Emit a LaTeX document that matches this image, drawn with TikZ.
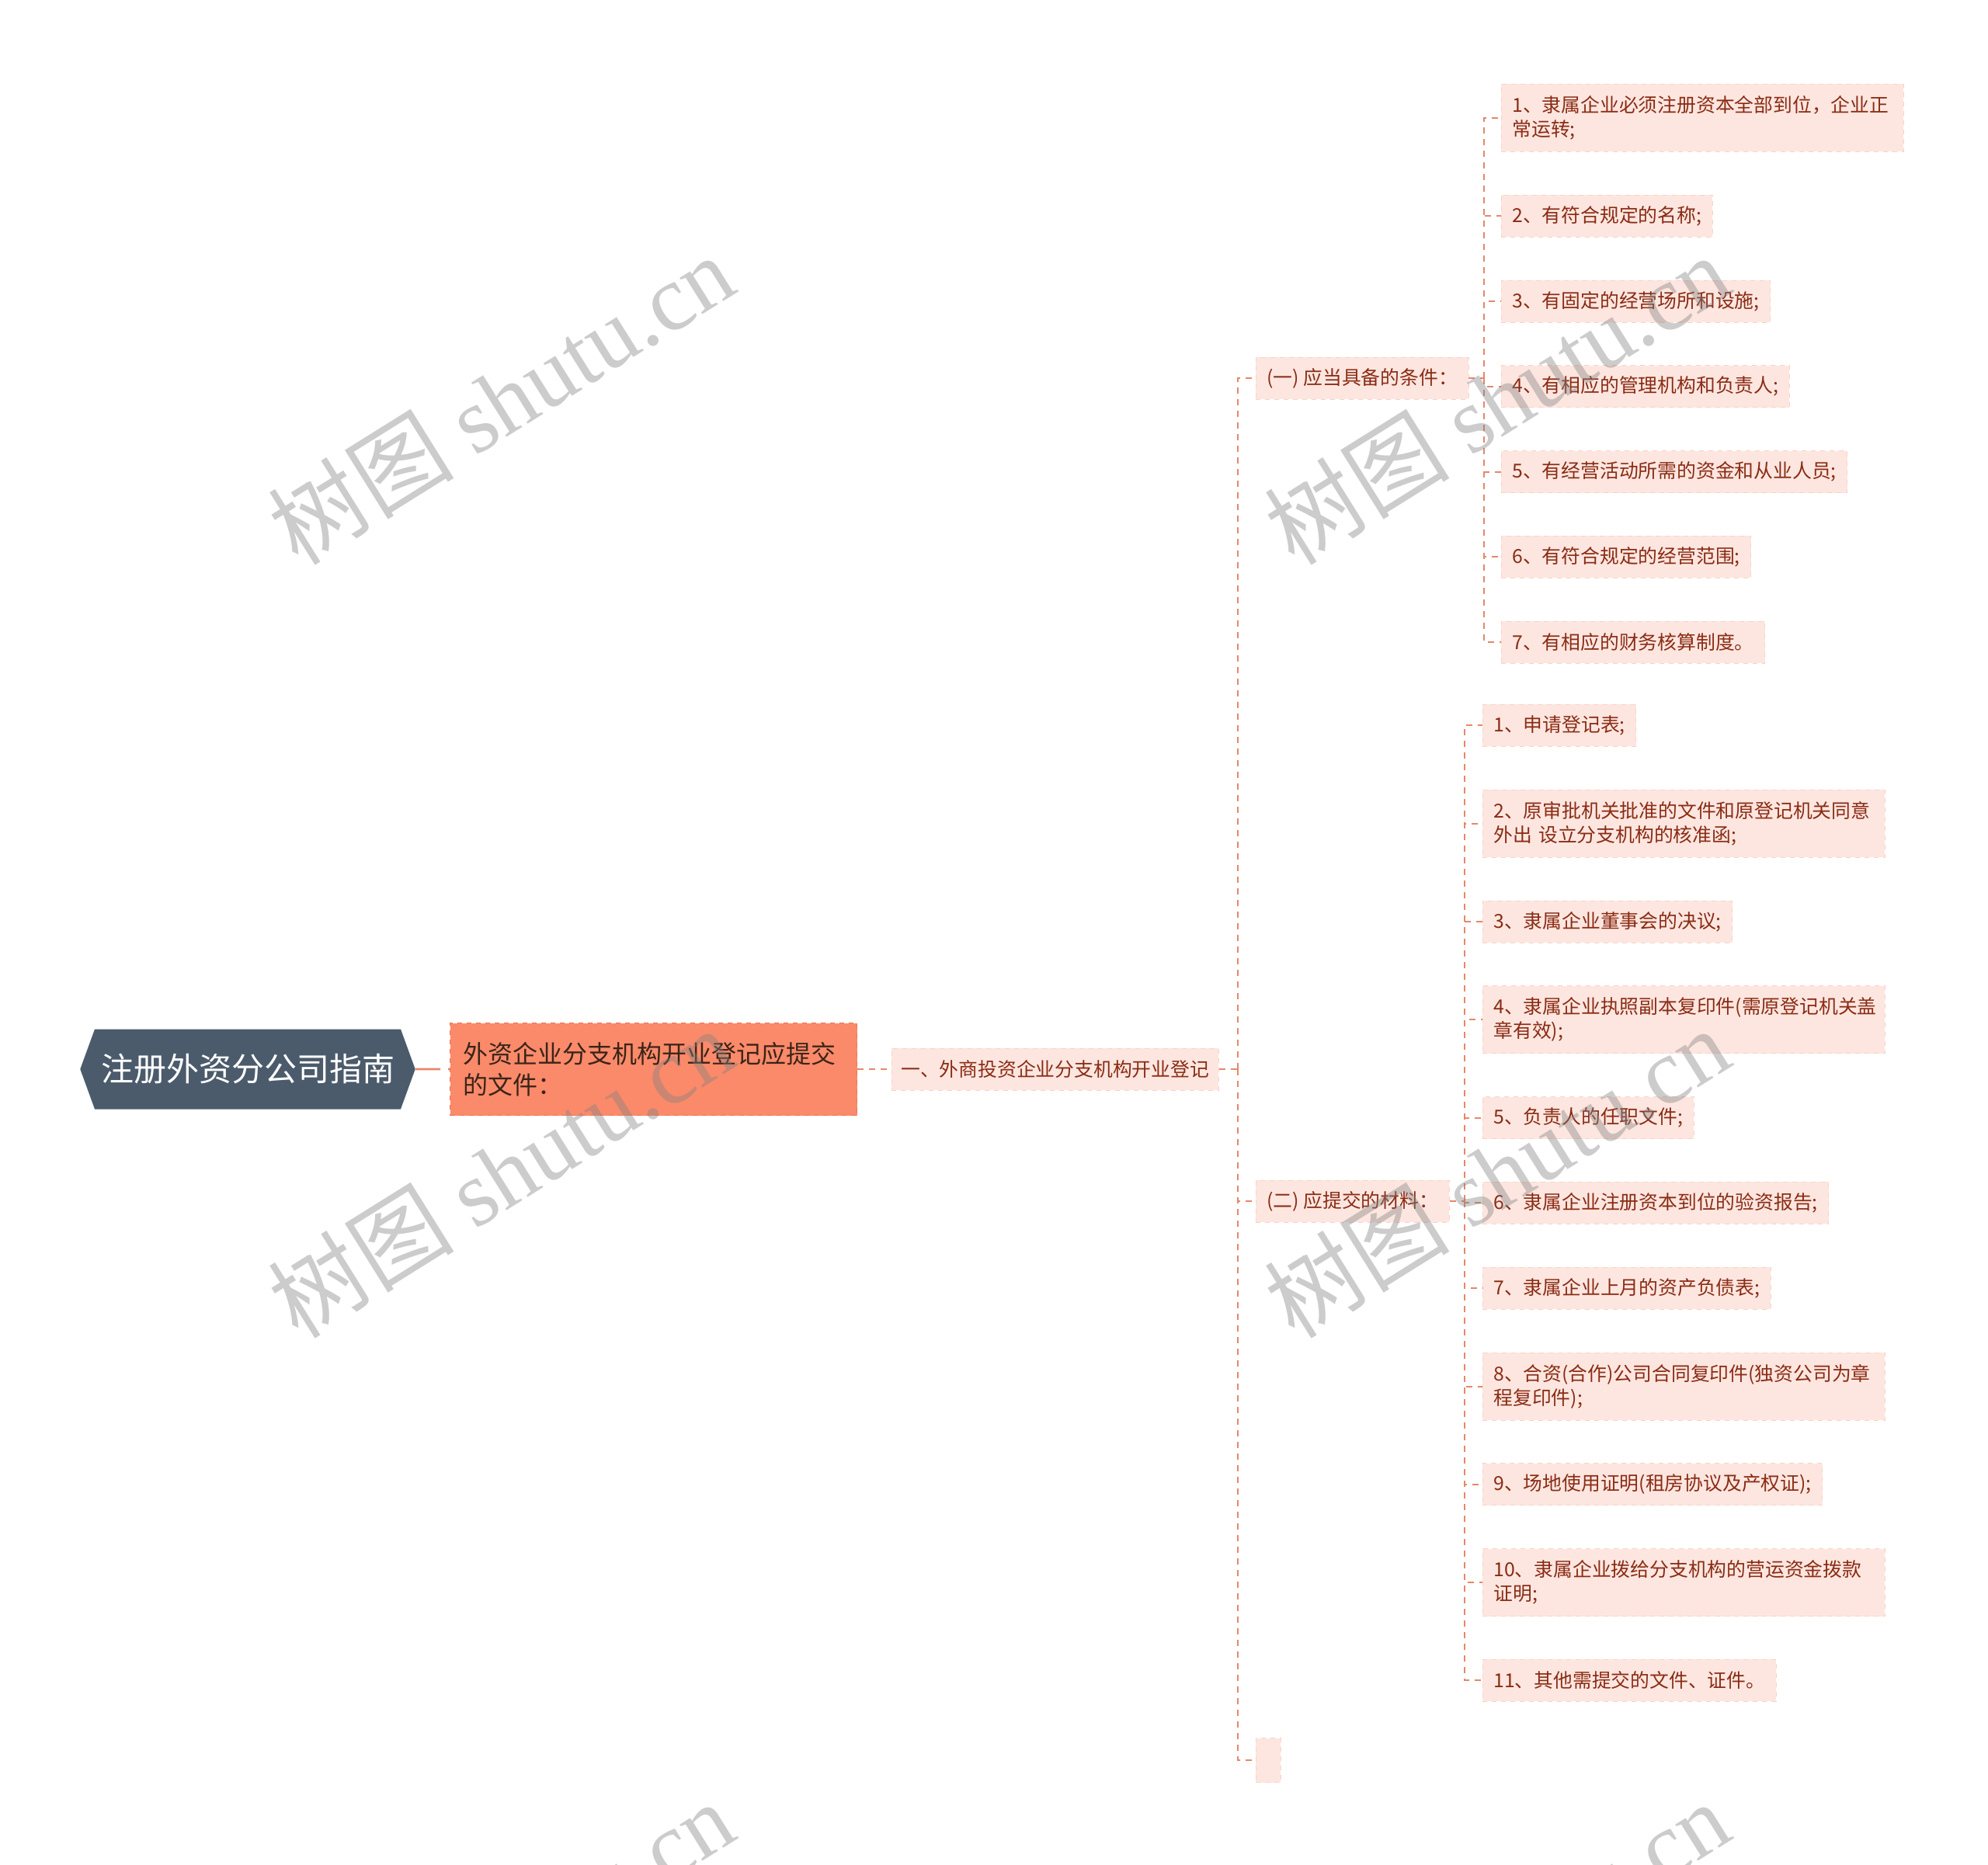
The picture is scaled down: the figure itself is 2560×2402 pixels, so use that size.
\documentclass[tikz,border=0pt]{standalone}
\usepackage{fontspec}
\setmainfont{Noto Sans CJK SC}
\newfontfamily\wmfont{Liberation Serif}
\usepackage{tikz}
\usetikzlibrary{positioning,shapes.symbols}
\definecolor{rootc}{HTML}{4B5B6B}
\definecolor{subc}{HTML}{FA8A6A}
\definecolor{subline}{HTML}{E8785A}
\definecolor{subtxt}{HTML}{3A2419}
\definecolor{itemc}{HTML}{FDE6E0}
\definecolor{itemline}{HTML}{F8D3C9}
\definecolor{itemtxt}{HTML}{8A2C14}
\definecolor{linkc}{HTML}{E5876B}
\definecolor{wmc}{HTML}{808080}
\newcommand{\itemfont}{\fontsize{12.4}{15.5}\selectfont}

\begin{document}
\begin{tikzpicture}[x=0.5pt,y=-0.5pt,
  rootbox/.style={signal,signal to=west and east,signal pointer angle=140,fill=rootc,text=white,
    font=\fontsize{21}{25}\selectfont,minimum width=213pt,minimum height=51.5pt,inner xsep=4pt},
  subbox/.style={fill=subc,draw=subline,dashed,text=subtxt,font=\fontsize{16}{20}\selectfont,
    text width=245pt,align=left,inner xsep=8.5pt,minimum height=59.5pt},
  item/.style={fill=itemc,draw=itemline,dashed,text=itemtxt,font=\itemfont,inner xsep=7pt,
    minimum height=27pt,align=left},
  wide/.style={item,text width=245pt,minimum height=43.5pt},
  link/.style={draw=linkc,line width=1pt,dash pattern=on 4pt off 3.5pt},
  wmark/.style={text=wmc,opacity=0.4,rotate=32,font=\fontsize{60}{60}\selectfont}]
    \useasboundingbox (0,0) rectangle (2560,2402);

    \node[rootbox] (root) at (319,1377) {注册外资分公司指南};
    \node[subbox,right=22pt of root] (sub) {外资企业分支机构开业登记应提交\\的文件：};
    \node[item,right=22pt of sub,inner xsep=6pt] (sec) {一、外商投资企业分支机构开业登记};

    \node[item,anchor=west] (cA) at (1617,487) {(一) 应当具备的条件：};
    \node[item,anchor=west] (cB) at (1617,1547) {(二) 应提交的材料：};
    \node[item,anchor=west,minimum width=16pt,minimum height=28.5pt] (blank) at (1617,2267) {};

    % (一)
    \node[wide,anchor=north west] (a1) at (1933,108) {1、隶属企业必须注册资本全部到位，企业正\\常运转;};
    \node[item,below=27.5pt of a1.south west,anchor=north west] (a2) {2、有符合规定的名称;};
    \node[item,below=27.5pt of a2.south west,anchor=north west] (a3) {3、有固定的经营场所和设施;};
    \node[item,below=27.5pt of a3.south west,anchor=north west] (a4) {4、有相应的管理机构和负责人;};
    \node[item,below=27.5pt of a4.south west,anchor=north west] (a5) {5、有经营活动所需的资金和从业人员;};
    \node[item,below=27.5pt of a5.south west,anchor=north west] (a6) {6、有符合规定的经营范围;};
    \node[item,below=27.5pt of a6.south west,anchor=north west] (a7) {7、有相应的财务核算制度。};

    % (二)
    \node[item,anchor=north west] (b1) at (1909,907) {1、申请登记表;};
    \node[wide,below=27.5pt of b1.south west,anchor=north west] (b2) {2、原审批机关批准的文件和原登记机关同意\\外出 设立分支机构的核准函;};
    \node[item,below=27.5pt of b2.south west,anchor=north west] (b3) {3、隶属企业董事会的决议;};
    \node[wide,below=27.5pt of b3.south west,anchor=north west] (b4) {4、隶属企业执照副本复印件(需原登记机关盖\\章有效);};
    \node[item,below=27.5pt of b4.south west,anchor=north west] (b5) {5、负责人的任职文件;};
    \node[item,below=27.5pt of b5.south west,anchor=north west] (b6) {6、隶属企业注册资本到位的验资报告;};
    \node[item,below=27.5pt of b6.south west,anchor=north west] (b7) {7、隶属企业上月的资产负债表;};
    \node[wide,below=27.5pt of b7.south west,anchor=north west] (b8) {8、合资(合作)公司合同复印件(独资公司为章\\程复印件);};
    \node[item,below=27.5pt of b8.south west,anchor=north west] (b9) {9、场地使用证明(租房协议及产权证);};
    \node[wide,below=27.5pt of b9.south west,anchor=north west] (b10) {10、隶属企业拨给分支机构的营运资金拨款\\证明;};
    \node[item,below=27.5pt of b10.south west,anchor=north west] (b11) {11、其他需提交的文件、证件。};

    \coordinate (t0) at (1594,1377);
    \coordinate (t1) at (1911,487);
    \coordinate (t2) at (1886,1547);

    \draw[draw=linkc,line width=1.4pt,dash pattern=on 16pt off 5pt] (root) -- (sub);
    \draw[link] (sub) -- (sec);
    \draw[link] (sec) -- (t0);
    \draw[link] (t0) |- (cA) (t0) |- (cB) (t0) |- (blank);
    \draw[link] (cA) -- (t1);
    \draw[link] (t1) |- (a1) (t1) |- (a2) (t1) |- (a3) (t1) |- (a4) (t1) |- (a5) (t1) |- (a6) (t1) |- (a7);
    \draw[link] (cB) -- (t2);
    \draw[link] (t2) |- (b1) (t2) |- (b2) (t2) |- (b3) (t2) |- (b4) (t2) |- (b5) (t2) |- (b6)
      (t2) |- (b7) (t2) |- (b8) (t2) |- (b9) (t2) |- (b10) (t2) |- (b11);

    \begin{scope}
      \clip (0,0) rectangle (2560,2402);
      \node[wmark] (w1) at (645,514) {树图 {\wmfont shutu.cn}};
      \node[wmark] (w2) at (1927,514) {树图 {\wmfont shutu.cn}};
      \node[wmark] (w3) at (645,1510) {树图 {\wmfont shutu.cn}};
      \node[wmark] (w4) at (1927,1510) {树图 {\wmfont shutu.cn}};
      \node[wmark] (w5) at (645,2506) {树图 {\wmfont shutu.cn}};
      \node[wmark] (w6) at (1927,2506) {树图 {\wmfont shutu.cn}};
    \end{scope}
  \end{tikzpicture}
\end{document}
